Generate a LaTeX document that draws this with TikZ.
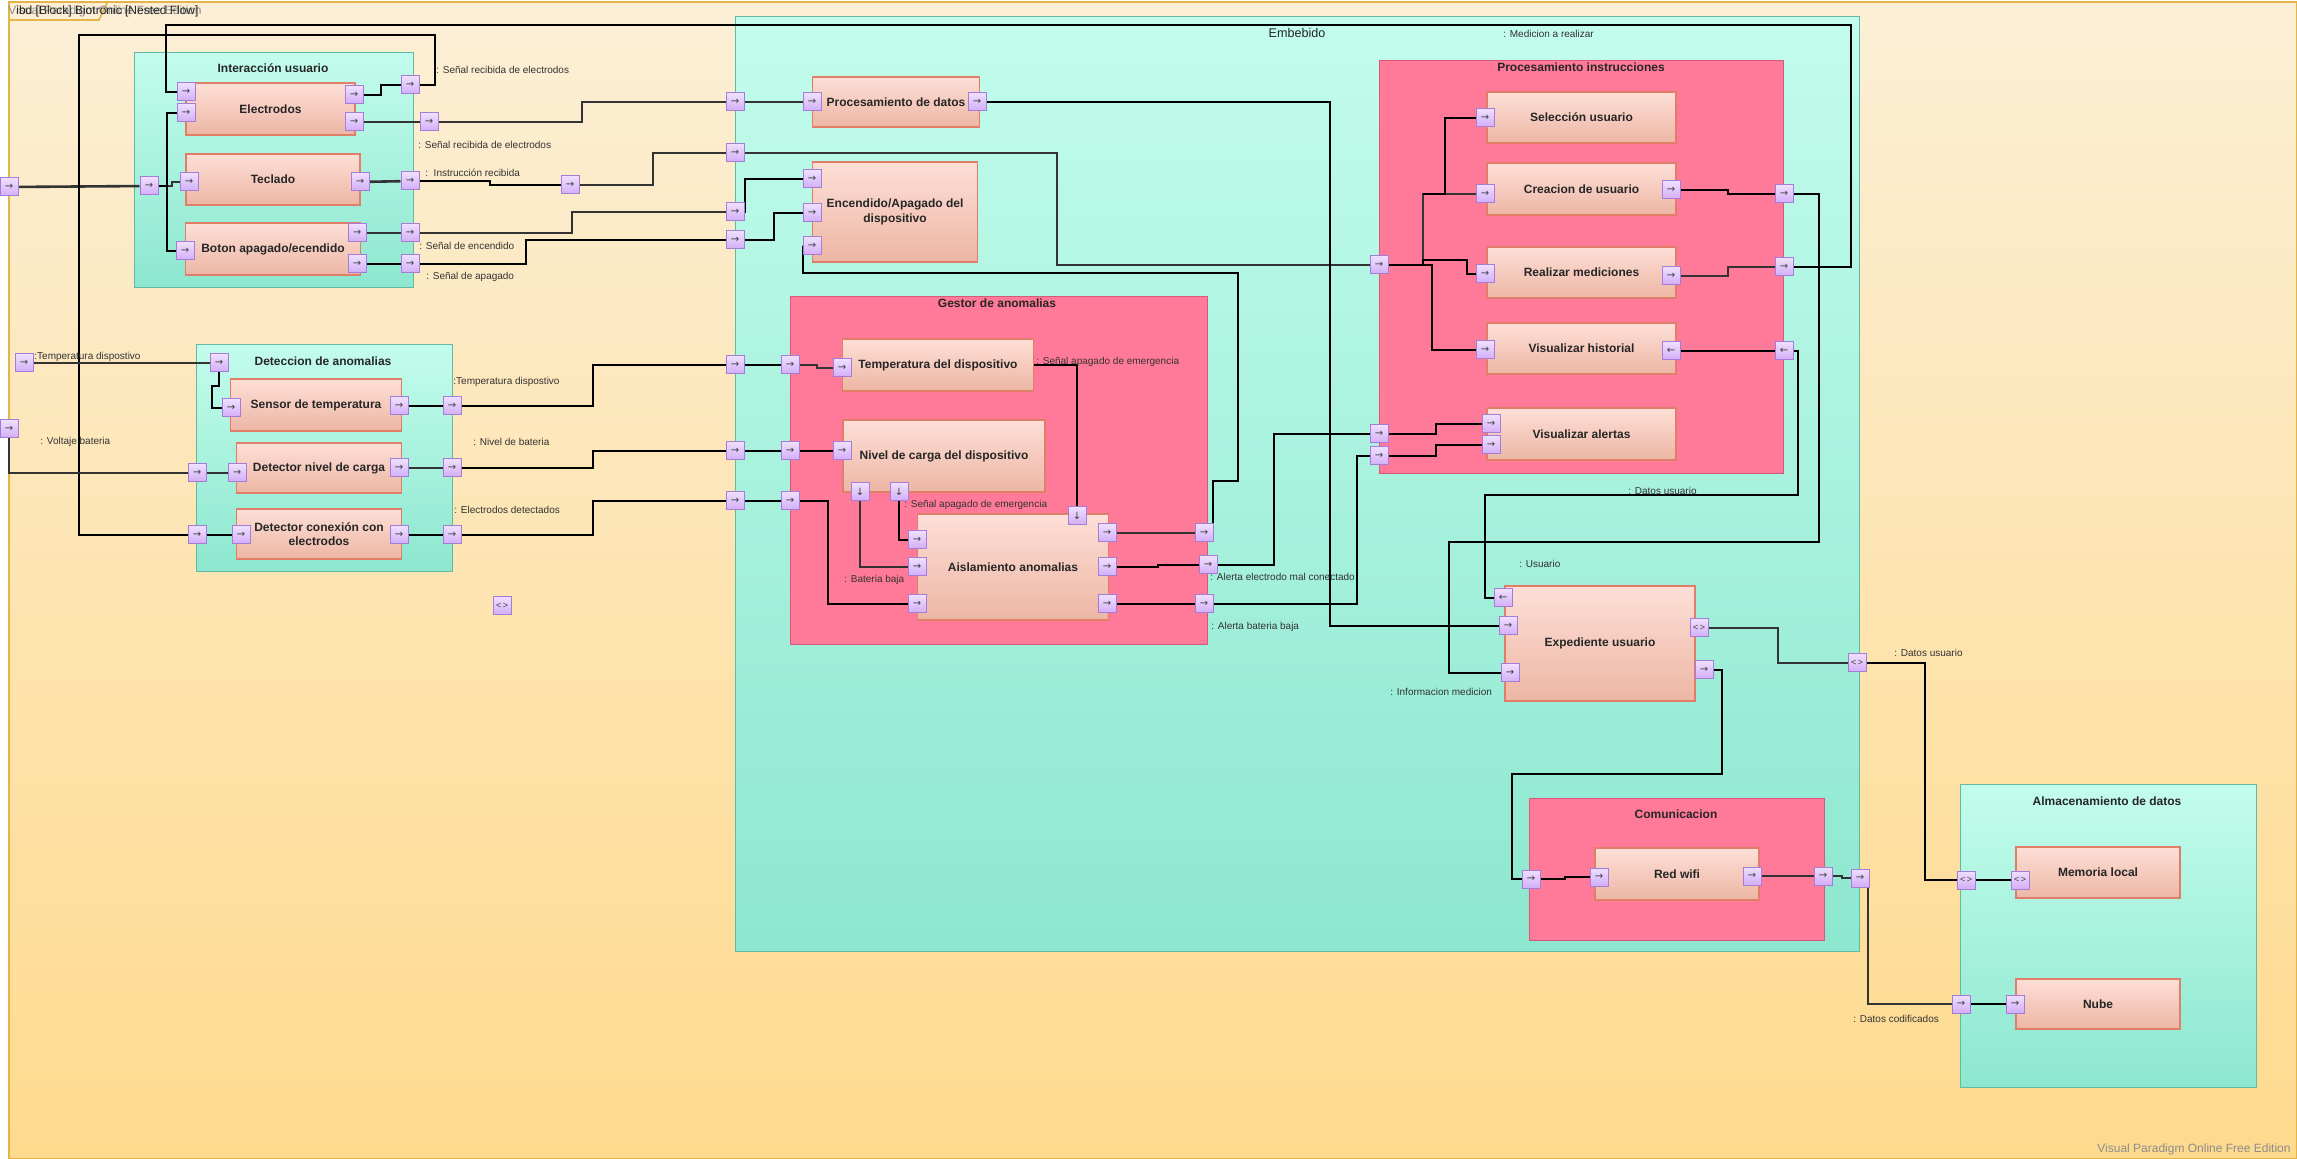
\documentclass[tikz,border=0pt]{standalone}
\usepackage{fontspec}
\setmainfont{Liberation Sans}
\newfontfamily\portfont{DejaVu Sans}
\usetikzlibrary{positioning, calc, backgrounds}
\pgfdeclarelayer{boxes}
\pgfdeclarelayer{lines}
\pgfsetlayers{boxes,lines,main}

\definecolor{frametop}{HTML}{FCEFD6}
\definecolor{framebot}{HTML}{FEDA8D}
\definecolor{frameline}{HTML}{E5B446}
\definecolor{tealtop}{HTML}{C3FCEC}
\definecolor{tealbot}{HTML}{8DE7CF}
\definecolor{tealline}{HTML}{63B9A1}
\definecolor{pinkfill}{HTML}{FF7A98}
\definecolor{pinkline}{HTML}{D65A7D}
\definecolor{blktop}{HTML}{FDDFD7}
\definecolor{blkbot}{HTML}{EDB6A4}
\definecolor{blkline}{HTML}{DF7F69}
\definecolor{porttop}{HTML}{EEDFFF}
\definecolor{portbot}{HTML}{D3ADF7}
\definecolor{portline}{HTML}{A67DD6}

\def\px{0.5pt}

\tikzset{
    dims/.style args={#1 #2}{minimum width=#1*\px, minimum height=#2*\px},
    framebox/.style={draw=frameline, line width=0.8pt, top color=frametop, bottom color=framebot, anchor=north west, inner sep=0pt},
    tealbox/.style={draw=tealline, line width=0.6pt, top color=tealtop, bottom color=tealbot, anchor=north west, inner sep=0pt},
    pinkbox/.style={draw=pinkline, line width=0.6pt, fill=pinkfill, anchor=north west, inner sep=0pt},
    blk/.style={draw=blkline, line width=0.6pt, top color=blktop, bottom color=blkbot, align=center, inner sep=0pt, font=\bfseries\fontsize{6}{7.2}\selectfont, text=black!85},
    ctitle/.style={inner sep=0pt, font=\bfseries\fontsize{6}{7.2}\selectfont, text=black!85},
    port/.style={draw=portline, line width=0.5pt, top color=porttop, bottom color=portbot, minimum size=18*\px, inner sep=0pt, font=\portfont\fontsize{5}{5}\selectfont, text=black!75},
    lbl/.style={anchor=west, inner sep=0pt, font=\fontsize{5}{6}\selectfont, text=black!80},
    wire/.style={draw=black, line width=0.7pt},
    heavy/.style={draw=black!80, line width=1.3pt}
}

\begin{document}
\begin{tikzpicture}[x=\px, y=-\px]
    \useasboundingbox (0,0) rectangle (2297,1159);

    \begin{pgfonlayer}{boxes}
    \node[framebox, dims=2288 1157] (ibd) at (8,1) {};
    \draw[frameline, line width=0.8pt] (8,20) -- (99,20) -- (108,1);
    % containers
    \node[tealbox, dims=279 235] (iu) at (134,52) {};
    \node[tealbox, dims=256 227] (da) at (196,344) {};
    \node[tealbox, dims=1124 935] (emb) at (735,16) {};
    \node[pinkbox, dims=417 348] (ga) at (790,296) {};
    \node[pinkbox, dims=404 413] (pi) at (1379,60) {};
    \node[pinkbox, dims=295 142] (com) at (1529,798) {};
    \node[tealbox, dims=296 303] (alm) at (1960,784) {};
    % blocks
    \node[blk, dims=169 52] (el) at (270.5,109) {Electrodos};
    \node[blk, dims=174 51] (te) at (273,179.5) {Teclado};
    \node[blk, dims=175 52] (bo) at (273,249) {Boton apagado/ecendido};
    \node[blk, dims=171 52] (se) at (316,405) {Sensor de temperatura};
    \node[blk, dims=165 50] (dn) at (319,468) {Detector nivel de carga};
    \node[blk, dims=165 50] (dc) at (319,534) {Detector conexión con\\electrodos};
    \node[blk, dims=167 50] (pd) at (896,102) {Procesamiento de datos};
    \node[blk, dims=165 100] (ea) at (895,212) {Encendido/Apagado del\\dispositivo};
    \node[blk, dims=191 52] (td) at (938,365) {Temperatura del dispositivo};
    \node[blk, dims=202 72] (nc) at (944,456) {Nivel de carga del dispositivo};
    \node[blk, dims=191 106] (ai) at (1013,567) {Aislamiento anomalias};
    \node[blk, dims=189 51] (su) at (1581.5,117.5) {Selección usuario};
    \node[blk, dims=189 52] (cu) at (1581.5,189) {Creacion de usuario};
    \node[blk, dims=189 51] (rm) at (1581.5,272.5) {Realizar mediciones};
    \node[blk, dims=189 51] (vh) at (1581.5,348.5) {Visualizar historial};
    \node[blk, dims=189 52] (va) at (1581.5,434) {Visualizar alertas};
    \node[blk, dims=190 115] (ex) at (1600,643.5) {Expediente usuario};
    \node[blk, dims=164 52] (rw) at (1677,874) {Red wifi};
    \node[blk, dims=164 51] (ml) at (2098,872.5) {Memoria local};
    \node[blk, dims=164 50] (nu) at (2098,1004) {Nube};
    \end{pgfonlayer}

    % container titles
    \node[ctitle] (tiu) at (273,68) {Interacción usuario};
    \node[ctitle] (tda) at (323,361) {Deteccion de anomalias};
    \node[ctitle, font=\fontsize{6.3}{7.2}\selectfont] (temb) at (1297,33) {Embebido};
    \node[ctitle] (tga) at (997,303) {Gestor de anomalias};
    \node[ctitle] (tpi) at (1581,67) {Procesamiento instrucciones};
    \node[ctitle] (tcom) at (1676,814) {Comunicacion};
    \node[ctitle] (talm) at (2107,801) {Almacenamiento de datos};

    % ports: interaccion usuario
    \node[port] (pFarL) at (9,187) {→};
    \node[port] (pIUin) at (149,186) {→};
    \node[port] (pElIn1) at (186,92) {→};
    \node[port] (pElIn2) at (186,113) {→};
    \node[port] (pElOut1) at (354,95) {→};
    \node[port] (pElOut2) at (354,122) {→};
    \node[port] (pIUa) at (410,85) {→};
    \node[port] (pB) at (429,122) {→};
    \node[port] (pTeIn) at (189,182) {→};
    \node[port] (pTeOut) at (360,182) {→};
    \node[port] (pIUc) at (410,181) {→};
    \node[port] (pD) at (570,185) {→};
    \node[port] (pBoIn) at (185,251) {→};
    \node[port] (pBoOut1) at (357,233) {→};
    \node[port] (pBoOut2) at (357,264) {→};
    \node[port] (pIUe) at (410,233) {→};
    \node[port] (pIUf) at (410,264) {→};
    % ports: deteccion
    \node[port] (pTempL) at (24,363) {→};
    \node[port] (pDAt) at (219,363) {→};
    \node[port] (pSeIn) at (231,408) {→};
    \node[port] (pSeOut) at (399,406) {→};
    \node[port] (pDAs) at (452,406) {→};
    \node[port] (pVolt) at (9,429) {→};
    \node[port] (pDAn) at (197,473) {→};
    \node[port] (pNiIn) at (237,473) {→};
    \node[port] (pNiOut) at (399,468) {→};
    \node[port] (pDAniv) at (452,468) {→};
    \node[port] (pDAc) at (197,535) {→};
    \node[port] (pCoIn) at (241,535) {→};
    \node[port] (pCoOut) at (399,535) {→};
    \node[port] (pDAe) at (452,535) {→};
    \node[port, font=\fontsize{4.5}{5}\selectfont] (pLoose) at (502,606) {<\,>};
    % ports: embebido
    \node[port] (pEm1) at (735,102) {→};
    \node[port] (pEm2) at (735,153) {→};
    \node[port] (pEm3) at (735,212) {→};
    \node[port] (pEm4) at (735,240) {→};
    \node[port] (pEm5) at (735,365) {→};
    \node[port] (pEm6) at (735,451) {→};
    \node[port] (pEm7) at (735,501) {→};
    \node[port] (pPdIn) at (812,102) {→};
    \node[port] (pPdOut) at (977,102) {→};
    \node[port] (pEaIn1) at (812,179) {→};
    \node[port] (pEaIn2) at (812,213) {→};
    \node[port] (pEaIn3) at (812,246) {→};
    % ports: gestor de anomalias
    \node[port] (pGa1) at (790,365) {→};
    \node[port] (pGa2) at (790,451) {→};
    \node[port] (pGa3) at (790,501) {→};
    \node[port] (pTdIn) at (842,368) {→};
    \node[port] (pNcIn) at (842,451) {→};
    \node[port] (pNcD1) at (860,492) {↓};
    \node[port] (pNcD2) at (899,492) {↓};
    \node[port] (pAiIn1) at (917,540) {→};
    \node[port] (pAiIn2) at (917,567) {→};
    \node[port] (pAiIn3) at (917,604) {→};
    \node[port] (pAiTop) at (1077,516) {↓};
    \node[port] (pAiOut1) at (1107,533) {→};
    \node[port] (pAiOut2) at (1107,567) {→};
    \node[port] (pAiOut3) at (1107,604) {→};
    \node[port] (pGaR1) at (1204,533) {→};
    \node[port] (pGaR2) at (1208,565) {→};
    \node[port] (pGaR3) at (1204,604) {→};
    % ports: procesamiento instrucciones
    \node[port] (pPiIn1) at (1379,265) {→};
    \node[port] (pPiIn2) at (1379,434) {→};
    \node[port] (pPiIn3) at (1379,456) {→};
    \node[port] (pSuIn) at (1485,118) {→};
    \node[port] (pCuIn) at (1485,194) {→};
    \node[port] (pCuOut) at (1671,190) {→};
    \node[port] (pRmIn) at (1485,274) {→};
    \node[port] (pRmOut) at (1671,276) {→};
    \node[port] (pVhIn) at (1485,350) {→};
    \node[port] (pVhOut) at (1671,351) {←};
    \node[port] (pVaIn1) at (1491,424) {→};
    \node[port] (pVaIn2) at (1491,445) {→};
    \node[port] (pPiR1) at (1784,194) {→};
    \node[port] (pPiR2) at (1784,267) {→};
    \node[port] (pPiR3) at (1784,351) {←};
    % ports: expediente, comunicacion, almacenamiento
    \node[port] (pExIn1) at (1503,598) {←};
    \node[port] (pExIn2) at (1508,626) {→};
    \node[port] (pExIn3) at (1510,673) {→};
    \node[port, font=\fontsize{4.5}{5}\selectfont] (pExOut1) at (1699,628) {<\,>};
    \node[port] (pExOut2) at (1704,670) {→};
    \node[port, font=\fontsize{4.5}{5}\selectfont] (pEmR1) at (1857,663) {<\,>};
    \node[port] (pEmR2) at (1860,878) {→};
    \node[port] (pCoL) at (1531,879) {→};
    \node[port] (pRwIn) at (1599,877) {→};
    \node[port] (pRwOut) at (1752,876) {→};
    \node[port] (pCoR) at (1823,876) {→};
    \node[port, font=\fontsize{4.5}{5}\selectfont] (pAlm1) at (1966,880) {<\,>};
    \node[port] (pAlm2) at (1961,1004) {→};
    \node[port, font=\fontsize{4.5}{5}\selectfont] (pMlIn) at (2020,880) {<\,>};
    \node[port] (pNuIn) at (2015,1004) {→};

    \begin{pgfonlayer}{lines}
    % interaccion usuario
    \draw[heavy] (pFarL) -- (pIUin);
    \draw[wire] (pIUin) -| (167,113) -- (pElIn2);
    \draw[heavy] (pIUin) -| (172,182) -- (pTeIn);
    \draw[wire] (pIUin) -| (167,251) -- (pBoIn);
    \draw[wire] (pElOut1) -| (381,85) -- (pIUa);
    \draw[heavy] (pElOut2) -- (pB);
    \draw[heavy] (pB) -| (582,102) -- (pEm1);
    \draw[heavy] (pTeOut) -- (pIUc);
    \draw[wire] (pIUc) -| (490,185) -- (pD);
    \draw[heavy] (pD) -| (653,153) -- (pEm2);
    \draw[heavy] (pBoOut1) -- (pIUe);
    \draw[heavy] (pIUe) -| (572,212) -- (pEm3);
    \draw[wire] (pBoOut2) -- (pIUf);
    \draw[wire] (pIUf) -| (526,240) -- (pEm4);
    \draw[wire] (pIUa) -| (435,35) -- (79,35) |- (pDAc);
    \draw[wire] (pPiR2) -| (1851,25) -- (166,25) |- (pElIn1);
    % deteccion
    \draw[heavy] (pTempL) -- (pDAt);
    \draw[wire] (pDAt) |- (212,386) |- (pSeIn);
    \draw[wire] (pSeOut) -- (pDAs);
    \draw[wire] (pDAs) -| (593,365) -- (pEm5);
    \draw[heavy] (pVolt) |- (pDAn) -- (pNiIn);
    \draw[heavy] (pNiOut) -- (pDAniv);
    \draw[wire] (pDAniv) -| (593,451) -- (pEm6);
    \draw[wire] (pDAc) -- (pCoIn);
    \draw[wire] (pCoOut) -- (pDAe);
    \draw[wire] (pDAe) -| (593,501) -- (pEm7);
    % embebido
    \draw[heavy] (pEm1) -- (pPdIn);
    \draw[heavy] (pEm2) -| (1057,265) -- (pPiIn1);
    \draw[wire] (pEm3) -| (745,179) -- (pEaIn1);
    \draw[wire] (pEm4) -| (774,213) -- (pEaIn2);
    \draw[wire] (pPdOut) -| (1330,626) -- (pExIn2);
    \draw[wire] (pEm5) -- (pGa1);
    \draw[heavy] (pGa1) -| (817,368) -- (pTdIn);
    \draw[wire] (pEm6) -- (pGa2) -- (pNcIn);
    \draw[wire] (pEm7) -- (pGa3) -| (828,604) -- (pAiIn3);
    \draw[heavy] (pNcD1) |- (pAiIn2);
    \draw[wire] (pNcD2) |- (pAiIn1);
    \draw[wire] (td.east) -| (pAiTop);
    \draw[heavy] (pAiOut1) -- (pGaR1);
    \draw[wire] (pGaR1) -| (1213,481) -| (1238,273) -| (803,246) -- (pEaIn3);
    \draw[wire] (pAiOut2) -| (1158,565) -- (pGaR2);
    \draw[wire] (pGaR2) -| (1274,434) -- (pPiIn2);
    \draw[wire] (pAiOut3) -- (pGaR3) -| (1357,456) -- (pPiIn3);
    % procesamiento instrucciones
    \draw[heavy] (pPiIn1) -| (1423,194) -- (pCuIn);
    \draw[wire] (1423,194) -| (1445,118) -- (pSuIn);
    \draw[wire] (pPiIn1) -| (1423,260) -| (1467,274) -- (pRmIn);
    \draw[wire] (pPiIn1) -| (1432,350) -- (pVhIn);
    \draw[wire] (pPiIn2) -| (1436,424) -- (pVaIn1);
    \draw[wire] (pPiIn3) -| (1436,445) -- (pVaIn2);
    \draw[wire] (pCuOut) -| (1728,194) -- (pPiR1);
    \draw[heavy] (pRmOut) -| (1728,267) -- (pPiR2);
    \draw[wire] (pVhOut) -- (pPiR3);
    \draw[wire] (pPiR1) -| (1819,542) -| (1449,673) -- (pExIn3);
    \draw[wire] (pPiR3) -| (1798,495) -| (1485,598) -- (pExIn1);
    % expediente, comunicacion, almacenamiento
    \draw[heavy] (pExOut1) -| (1778,663) -- (pEmR1);
    \draw[wire] (pEmR1) -| (1925,880) -- (pAlm1);
    \draw[wire] (pAlm1) -- (pMlIn);
    \draw[wire] (pExOut2) -| (1722,774) -| (1512,879) -- (pCoL);
    \draw[wire] (pCoL) -| (1565,877) -- (pRwIn);
    \draw[heavy] (pRwOut) -- (pCoR);
    \draw[heavy] (pCoR) -| (1842,878) -- (pEmR2);
    \draw[heavy] (pEmR2) -| (1868,1004) -- (pAlm2);
    \draw[wire] (pAlm2) -- (pNuIn);
    \end{pgfonlayer}

    % flow labels
    \node[lbl] (l1) at (436,70) {: Señal recibida de electrodos};
    \node[lbl] (l2) at (418,145) {: Señal recibida de electrodos};
    \node[lbl] (l3) at (425,173) {:\ \ Instrucción recibida};
    \node[lbl] (l4) at (419,246) {: Señal de encendido};
    \node[lbl] (l5) at (426,277) {: Señal de apagado};
    \node[lbl] (l6) at (34,357) {:Temperatura dispostivo};
    \node[lbl] (l7) at (453,382) {:Temperatura dispostivo};
    \node[lbl] (l8) at (40,442) {: Voltaje bateria};
    \node[lbl] (l9) at (473,442) {: Nivel de bateria};
    \node[lbl] (l10) at (454,510) {: Electrodos detectados};
    \node[lbl] (l11) at (1503,34) {: Medicion a realizar};
    \node[lbl] (l12) at (1036,362) {: Señal apagado de emergencia};
    \node[lbl] (l13) at (904,505) {: Señal apagado de emergencia};
    \node[lbl] (l14) at (844,580) {: Bateria baja};
    \node[lbl] (l15) at (1210,577) {: Alerta electrodo mal conectado};
    \node[lbl] (l16) at (1211,627) {: Alerta bateria baja};
    \node[lbl] (l17) at (1628,491) {: Datos usuario};
    \node[lbl] (l18) at (1519,564) {: Usuario};
    \node[lbl] (l19) at (1390,692) {: Informacion medicion};
    \node[lbl] (l20) at (1894,653) {: Datos usuario};
    \node[lbl] (l21) at (1853,1019) {: Datos codificados};

    % frame name and watermarks
    \node[lbl, font=\fontsize{6}{7}\selectfont, text=black!45] (wm1) at (8,11) {Visual Paradigm Online Free Edition};
    \node[lbl, font=\fontsize{6}{7}\selectfont, text=black!85] (fname) at (16,11) {ibd [Block] Biotronic [Nested Flow]};
    \node[lbl, anchor=east, font=\fontsize{6}{7}\selectfont, text=black!45] (wm2) at (2291,1149) {Visual Paradigm Online Free Edition};
\end{tikzpicture}
\end{document}
